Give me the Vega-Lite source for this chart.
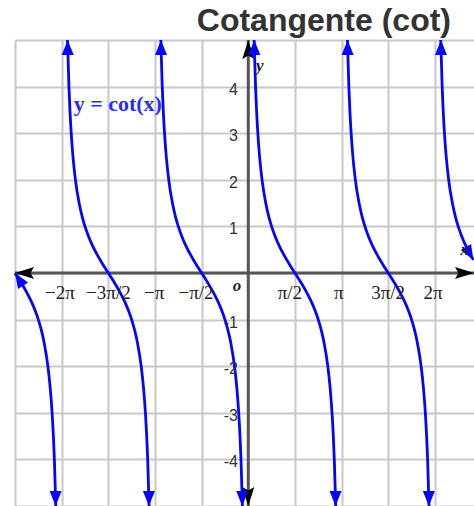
{
  "$schema": "https://vega.github.io/schema/vega-lite/v6.json",
  "autosize": {"type": "none"},
  "padding": {"left": 15, "top": 40, "right": 0, "bottom": 0},
  "width": 459,
  "height": 466,
  "background": "white",
  "config": {"view": {"stroke": null}},
  "title": {
    "text": "Cotangente (cot)",
    "anchor": "end",
    "orient": "top",
    "offset": -4,
    "dx": -28,
    "font": "Liberation Sans",
    "fontSize": 32,
    "fontWeight": "bold",
    "color": "#333333"
  },
  "datasets": {
    "cot": [
      {"b": -3, "x": -7.8540, "y": 0},
      {"b": -3, "x": -7.6566, "y": -0.2},
      {"b": -3, "x": -7.4735, "y": -0.4},
      {"b": -3, "x": -7.3136, "y": -0.6},
      {"b": -3, "x": -7.1793, "y": -0.8},
      {"b": -3, "x": -7.0686, "y": -1},
      {"b": -3, "x": -6.9779, "y": -1.2},
      {"b": -3, "x": -6.8712, "y": -1.5},
      {"b": -3, "x": -6.7469, "y": -2},
      {"b": -3, "x": -6.6637, "y": -2.5},
      {"b": -3, "x": -6.6050, "y": -3},
      {"b": -3, "x": -6.5615, "y": -3.5},
      {"b": -3, "x": -6.5282, "y": -4},
      {"b": -3, "x": -6.4806, "y": -5},

      {"b": -2, "x": -6.0858, "y": 5},
      {"b": -2, "x": -6.0382, "y": 4},
      {"b": -2, "x": -6.0049, "y": 3.5},
      {"b": -2, "x": -5.9614, "y": 3},
      {"b": -2, "x": -5.9027, "y": 2.5},
      {"b": -2, "x": -5.8196, "y": 2},
      {"b": -2, "x": -5.6952, "y": 1.5},
      {"b": -2, "x": -5.5885, "y": 1.2},
      {"b": -2, "x": -5.4978, "y": 1},
      {"b": -2, "x": -5.3871, "y": 0.8},
      {"b": -2, "x": -5.2528, "y": 0.6},
      {"b": -2, "x": -5.0929, "y": 0.4},
      {"b": -2, "x": -4.9098, "y": 0.2},
      {"b": -2, "x": -4.7124, "y": 0},
      {"b": -2, "x": -4.5150, "y": -0.2},
      {"b": -2, "x": -4.3319, "y": -0.4},
      {"b": -2, "x": -4.1720, "y": -0.6},
      {"b": -2, "x": -4.0377, "y": -0.8},
      {"b": -2, "x": -3.9270, "y": -1},
      {"b": -2, "x": -3.8363, "y": -1.2},
      {"b": -2, "x": -3.7296, "y": -1.5},
      {"b": -2, "x": -3.6053, "y": -2},
      {"b": -2, "x": -3.5221, "y": -2.5},
      {"b": -2, "x": -3.4634, "y": -3},
      {"b": -2, "x": -3.4199, "y": -3.5},
      {"b": -2, "x": -3.3866, "y": -4},
      {"b": -2, "x": -3.3390, "y": -5},

      {"b": -1, "x": -2.9442, "y": 5},
      {"b": -1, "x": -2.8966, "y": 4},
      {"b": -1, "x": -2.8633, "y": 3.5},
      {"b": -1, "x": -2.8198, "y": 3},
      {"b": -1, "x": -2.7611, "y": 2.5},
      {"b": -1, "x": -2.6780, "y": 2},
      {"b": -1, "x": -2.5536, "y": 1.5},
      {"b": -1, "x": -2.4469, "y": 1.2},
      {"b": -1, "x": -2.3562, "y": 1},
      {"b": -1, "x": -2.2455, "y": 0.8},
      {"b": -1, "x": -2.1112, "y": 0.6},
      {"b": -1, "x": -1.9513, "y": 0.4},
      {"b": -1, "x": -1.7682, "y": 0.2},
      {"b": -1, "x": -1.5708, "y": 0},
      {"b": -1, "x": -1.3734, "y": -0.2},
      {"b": -1, "x": -1.1903, "y": -0.4},
      {"b": -1, "x": -1.0304, "y": -0.6},
      {"b": -1, "x": -0.8961, "y": -0.8},
      {"b": -1, "x": -0.7854, "y": -1},
      {"b": -1, "x": -0.6947, "y": -1.2},
      {"b": -1, "x": -0.5880, "y": -1.5},
      {"b": -1, "x": -0.4637, "y": -2},
      {"b": -1, "x": -0.3805, "y": -2.5},
      {"b": -1, "x": -0.3218, "y": -3},
      {"b": -1, "x": -0.2783, "y": -3.5},
      {"b": -1, "x": -0.2450, "y": -4},
      {"b": -1, "x": -0.1974, "y": -5},

      {"b": 0, "x": 0.1974, "y": 5},
      {"b": 0, "x": 0.2450, "y": 4},
      {"b": 0, "x": 0.2783, "y": 3.5},
      {"b": 0, "x": 0.3218, "y": 3},
      {"b": 0, "x": 0.3805, "y": 2.5},
      {"b": 0, "x": 0.4636, "y": 2},
      {"b": 0, "x": 0.5880, "y": 1.5},
      {"b": 0, "x": 0.6947, "y": 1.2},
      {"b": 0, "x": 0.7854, "y": 1},
      {"b": 0, "x": 0.8961, "y": 0.8},
      {"b": 0, "x": 1.0304, "y": 0.6},
      {"b": 0, "x": 1.1903, "y": 0.4},
      {"b": 0, "x": 1.3734, "y": 0.2},
      {"b": 0, "x": 1.5708, "y": 0},
      {"b": 0, "x": 1.7682, "y": -0.2},
      {"b": 0, "x": 1.9513, "y": -0.4},
      {"b": 0, "x": 2.1112, "y": -0.6},
      {"b": 0, "x": 2.2455, "y": -0.8},
      {"b": 0, "x": 2.3562, "y": -1},
      {"b": 0, "x": 2.4469, "y": -1.2},
      {"b": 0, "x": 2.5536, "y": -1.5},
      {"b": 0, "x": 2.6779, "y": -2},
      {"b": 0, "x": 2.7611, "y": -2.5},
      {"b": 0, "x": 2.8198, "y": -3},
      {"b": 0, "x": 2.8633, "y": -3.5},
      {"b": 0, "x": 2.8966, "y": -4},
      {"b": 0, "x": 2.9442, "y": -5},

      {"b": 1, "x": 3.3390, "y": 5},
      {"b": 1, "x": 3.3866, "y": 4},
      {"b": 1, "x": 3.4199, "y": 3.5},
      {"b": 1, "x": 3.4634, "y": 3},
      {"b": 1, "x": 3.5221, "y": 2.5},
      {"b": 1, "x": 3.6052, "y": 2},
      {"b": 1, "x": 3.7296, "y": 1.5},
      {"b": 1, "x": 3.8363, "y": 1.2},
      {"b": 1, "x": 3.9270, "y": 1},
      {"b": 1, "x": 4.0377, "y": 0.8},
      {"b": 1, "x": 4.1720, "y": 0.6},
      {"b": 1, "x": 4.3319, "y": 0.4},
      {"b": 1, "x": 4.5150, "y": 0.2},
      {"b": 1, "x": 4.7124, "y": 0},
      {"b": 1, "x": 4.9098, "y": -0.2},
      {"b": 1, "x": 5.0929, "y": -0.4},
      {"b": 1, "x": 5.2528, "y": -0.6},
      {"b": 1, "x": 5.3871, "y": -0.8},
      {"b": 1, "x": 5.4978, "y": -1},
      {"b": 1, "x": 5.5885, "y": -1.2},
      {"b": 1, "x": 5.6952, "y": -1.5},
      {"b": 1, "x": 5.8195, "y": -2},
      {"b": 1, "x": 5.9027, "y": -2.5},
      {"b": 1, "x": 5.9614, "y": -3},
      {"b": 1, "x": 6.0049, "y": -3.5},
      {"b": 1, "x": 6.0382, "y": -4},
      {"b": 1, "x": 6.0858, "y": -5},

      {"b": 2, "x": 6.4806, "y": 5},
      {"b": 2, "x": 6.5282, "y": 4},
      {"b": 2, "x": 6.5615, "y": 3.5},
      {"b": 2, "x": 6.6050, "y": 3},
      {"b": 2, "x": 6.6637, "y": 2.5},
      {"b": 2, "x": 6.7468, "y": 2},
      {"b": 2, "x": 6.8712, "y": 1.5},
      {"b": 2, "x": 6.9779, "y": 1.2},
      {"b": 2, "x": 7.0686, "y": 1},
      {"b": 2, "x": 7.1793, "y": 0.8},
      {"b": 2, "x": 7.3136, "y": 0.6},
      {"b": 2, "x": 7.4735, "y": 0.4},
      {"b": 2, "x": 7.5800, "y": 0.281}
    ],
    "curveHeads": [
      {"x": -6.0794, "y": 4.84, "a": 0},
      {"x": -2.9378, "y": 4.84, "a": 0},
      {"x": 0.2038, "y": 4.84, "a": 0},
      {"x": 3.3454, "y": 4.84, "a": 0},
      {"x": 6.4870, "y": 4.84, "a": 0},
      {"x": -6.4870, "y": -4.84, "a": 180},
      {"x": -3.3454, "y": -4.84, "a": 180},
      {"x": -0.2038, "y": -4.84, "a": 180},
      {"x": 2.9378, "y": -4.84, "a": 180},
      {"x": 6.0794, "y": -4.84, "a": 180},
      {"x": -7.719, "y": -0.136, "a": 327.5},
      {"x": 7.453, "y": 0.42, "a": 150}
    ],
    "axisHeads": [
      {"x": -7.517, "y": 0, "a": 270},
      {"x": 7.263, "y": 0, "a": 90},
      {"x": 0, "y": 4.785, "a": 0},
      {"x": 0, "y": -4.785, "a": 180}
    ],
    "xTicks": [
      {"x": -6.34, "y": -0.43, "label": "−2π"},
      {"x": -4.71, "y": -0.43, "label": "−3π/2"},
      {"x": -3.17, "y": -0.43, "label": "−π"},
      {"x": -1.76, "y": -0.43, "label": "−π/2"},
      {"x": 1.40, "y": -0.43, "label": "π/2"},
      {"x": 3.05, "y": -0.43, "label": "π"},
      {"x": 4.71, "y": -0.43, "label": "3π/2"},
      {"x": 6.22, "y": -0.43, "label": "2π"}
    ],
    "yTicks": [
      {"x": -0.35, "y": 4, "label": "4"},
      {"x": -0.35, "y": 3, "label": "3"},
      {"x": -0.35, "y": 2, "label": "2"},
      {"x": -0.35, "y": 1, "label": "1"},
      {"x": -0.35, "y": -1, "label": "-1"},
      {"x": -0.35, "y": -2, "label": "-2"},
      {"x": -0.35, "y": -3, "label": "-3"},
      {"x": -0.35, "y": -4, "label": "-4"}
    ],
    "axisNames": [
      {"x": 0.39, "y": 4.44, "label": "y"},
      {"x": 7.29, "y": 0.49, "label": "x"},
      {"x": -0.38, "y": -0.28, "label": "o"}
    ],
    "curveName": [
      {"x": -5.88, "y": 3.63, "label": "y = cot(x)"}
    ]
  },
  "encoding": {
    "x": {
      "field": "x",
      "type": "quantitative",
      "scale": {"domain": [-7.854, 7.6], "nice": false, "zero": false},
      "axis": {
        "values": [-7.854, -6.2832, -4.7124, -3.1416, -1.5708, 0, 1.5708, 3.1416, 4.7124, 6.2832],
        "grid": true,
        "gridColor": "#c8c8c8",
        "gridWidth": 2,
        "labels": false,
        "ticks": false,
        "domain": false,
        "title": null
      }
    },
    "y": {
      "field": "y",
      "type": "quantitative",
      "scale": {"domain": [-5, 5], "nice": false, "zero": false},
      "axis": {
        "values": [-5, -4, -3, -2, -1, 0, 1, 2, 3, 4, 5],
        "grid": true,
        "gridColor": "#c8c8c8",
        "gridWidth": 2,
        "labels": false,
        "ticks": false,
        "domain": false,
        "title": null
      }
    }
  },
  "layer": [
    {
      "data": {"values": [{"y": 0}]},
      "mark": {"type": "rule", "color": "#555555", "strokeWidth": 3},
      "encoding": {"x": null, "y": {"field": "y", "type": "quantitative"}}
    },
    {
      "data": {"values": [{"x": 0}]},
      "mark": {"type": "rule", "color": "#555555", "strokeWidth": 3},
      "encoding": {"x": {"field": "x", "type": "quantitative"}, "y": null}
    },
    {
      "data": {"name": "axisHeads"},
      "mark": {
        "type": "point",
        "shape": "M0,-1L0.6,0.9L0,0.55L-0.6,0.9Z",
        "filled": true,
        "color": "#000000",
        "opacity": 1,
        "size": 400
      },
      "encoding": {"angle": {"field": "a", "type": "quantitative", "scale": null}}
    },
    {
      "data": {"name": "cot"},
      "mark": {"type": "line", "color": "#0505ff", "strokeWidth": 2.8, "interpolate": "monotone"},
      "encoding": {"detail": {"field": "b", "type": "nominal"}}
    },
    {
      "data": {"name": "curveHeads"},
      "mark": {
        "type": "point",
        "shape": "M0,-1L0.8,1L-0.8,1Z",
        "filled": true,
        "color": "#0505ff",
        "opacity": 1,
        "size": 225
      },
      "encoding": {"angle": {"field": "a", "type": "quantitative", "scale": null}}
    },
    {
      "data": {"name": "xTicks"},
      "mark": {"type": "text", "font": "Liberation Serif", "fontSize": 19, "color": "#222222", "baseline": "middle"},
      "encoding": {"text": {"field": "label"}}
    },
    {
      "data": {"name": "yTicks"},
      "mark": {"type": "text", "font": "Liberation Sans", "fontSize": 16, "color": "#333333", "align": "right", "baseline": "middle", "dy": 3},
      "encoding": {"text": {"field": "label"}}
    },
    {
      "data": {"name": "axisNames"},
      "mark": {"type": "text", "font": "Liberation Serif", "fontSize": 17, "fontStyle": "italic", "fontWeight": "bold", "color": "#222222", "baseline": "middle"},
      "encoding": {"text": {"field": "label"}}
    },
    {
      "data": {"name": "curveName"},
      "mark": {"type": "text", "font": "Liberation Serif", "fontSize": 22, "fontWeight": "bold", "color": "#2a2aff", "align": "left", "baseline": "middle"},
      "encoding": {"text": {"field": "label"}}
    }
  ]
}
